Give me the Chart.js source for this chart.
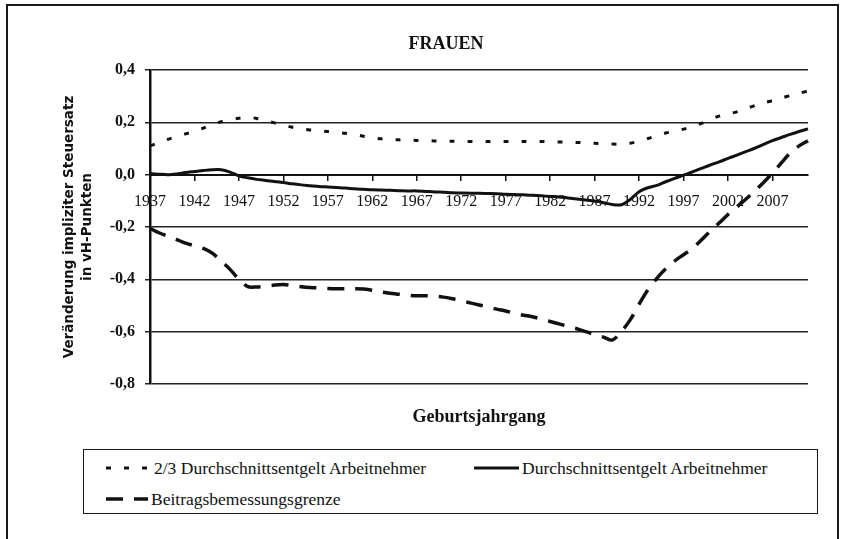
<!DOCTYPE html>
<html lang="de">
<head>
<meta charset="utf-8">
<script src="https://cdn.jsdelivr.net/npm/chart.js@4.4.1/dist/chart.umd.min.js"></script>
<style>
    html, body { margin: 0; padding: 0; background: #fff; width: 842px; height: 539px; overflow: hidden; }
    #frame { position: absolute; left: 6px; top: 4px; width: 829px; height: 560px; border: 2px solid #1a1a1a; }
    #chart { position: absolute; left: 0; top: 0; }
    #legend {
        position: absolute; left: 83px; top: 449px; width: 733px; height: 63px;
        border: 1.5px solid #1a1a1a; background: #fff;
        font-family: "Liberation Serif", serif; font-size: 17.5px; color: #111;
    }
    .item { position: absolute; display: flex; align-items: center; height: 20px; white-space: nowrap; }
    .item svg { margin-right: 3px; }
</style>
</head>
<body>
<div id="frame"></div>
<canvas id="chart" width="842" height="539"></canvas>
<div id="legend"></div>

<script>
// ============================
// DATA
// ============================
const years = [
    1937, 1938, 1939, 1940, 1941, 1942, 1943, 1944, 1945, 1946,
    1947, 1948, 1949, 1950, 1951, 1952, 1953, 1954, 1955, 1956,
    1957, 1958, 1959, 1960, 1961, 1962, 1963, 1964, 1965, 1966,
    1967, 1968, 1969, 1970, 1971, 1972, 1973, 1974, 1975, 1976,
    1977, 1978, 1979, 1980, 1981, 1982, 1983, 1984, 1985, 1986,
    1987, 1988, 1989, 1990, 1991, 1992, 1993, 1994, 1995, 1996,
    1997, 1998, 1999, 2000, 2001, 2002, 2003, 2004, 2005, 2006,
    2007, 2008, 2009, 2010, 2011
];

const tickYears = [1937, 1942, 1947, 1952, 1957, 1962, 1967, 1972, 1977, 1982, 1987, 1992, 1997, 2002, 2007];
const yTicks = [0.4, 0.2, 0.0, -0.2, -0.4, -0.6, -0.8];

const seriesNames = [
    "2/3 Durchschnittsentgelt Arbeitnehmer",
    "Durchschnittsentgelt Arbeitnehmer",
    "Beitragsbemessungsgrenze"
];

// 2/3 Durchschnittsentgelt
const twoThirdsAvg = [
    0.110, 0.122, 0.135, 0.146, 0.156, 0.165, 0.178, 0.192, 0.202, 0.210,
    0.216, 0.219, 0.215, 0.206, 0.198, 0.190, 0.181, 0.175, 0.171, 0.168,
    0.165, 0.161, 0.158, 0.153, 0.147, 0.141, 0.137, 0.135, 0.133, 0.132,
    0.131, 0.130, 0.129, 0.128, 0.128, 0.127, 0.127, 0.126, 0.127, 0.127,
    0.127, 0.127, 0.127, 0.126, 0.127, 0.126, 0.125, 0.124, 0.123, 0.122,
    0.120, 0.119, 0.117, 0.116, 0.120, 0.128, 0.138, 0.149, 0.159, 0.166,
    0.174, 0.184, 0.196, 0.210, 0.224, 0.232, 0.240, 0.252, 0.264, 0.274,
    0.283, 0.293, 0.302, 0.311, 0.320
];

// Durchschnittsentgelt
const avgEarnings = [
    0.004, 0.002, 0.000, 0.003, 0.008, 0.012, 0.016, 0.019, 0.019, 0.010,
    -0.004, -0.012, -0.018, -0.022, -0.026, -0.030, -0.035, -0.039, -0.042, -0.045,
    -0.047, -0.049, -0.051, -0.054, -0.056, -0.058, -0.059, -0.060, -0.061, -0.062,
    -0.062, -0.064, -0.066, -0.067, -0.069, -0.070, -0.071, -0.071, -0.072, -0.073,
    -0.075, -0.076, -0.077, -0.079, -0.081, -0.083, -0.085, -0.089, -0.093, -0.097,
    -0.101, -0.107, -0.114, -0.115, -0.095, -0.065, -0.050, -0.041, -0.027, -0.014,
    -0.002, 0.011, 0.024, 0.037, 0.049, 0.062, 0.075, 0.088, 0.101, 0.116,
    0.130, 0.142, 0.154, 0.165, 0.175
];

// Beitragsbemessungsgrenze
const contributionCeiling = [
    -0.205, -0.222, -0.235, -0.248, -0.262, -0.272, -0.282, -0.300, -0.330, -0.362,
    -0.400, -0.428, -0.429, -0.426, -0.422, -0.420, -0.424, -0.428, -0.431, -0.433,
    -0.435, -0.436, -0.436, -0.436, -0.437, -0.442, -0.448, -0.453, -0.457, -0.461,
    -0.463, -0.463, -0.464, -0.468, -0.474, -0.481, -0.490, -0.498, -0.505, -0.514,
    -0.521, -0.530, -0.537, -0.543, -0.552, -0.561, -0.570, -0.580, -0.589, -0.600,
    -0.610, -0.621, -0.632, -0.600, -0.555, -0.495, -0.440, -0.396, -0.360, -0.330,
    -0.306, -0.282, -0.250, -0.216, -0.185, -0.152, -0.124, -0.094, -0.063, -0.030,
    0.006, 0.045, 0.083, 0.110, 0.130
];

const ink = "#111";
const serif = "'Liberation Serif', 'Times New Roman', serif";

const lineStyles = [
    { width: 3, dash: [5, 13] },
    { width: 3, dash: [] },
    { width: 3.5, dash: [17, 11] }
];

function fmtComma(v) {
    if (Math.abs(v) < 1e-9) return "0,0";
    return v.toFixed(1).replace(".", ",");
}

// ============================
// CHART
// ============================
const datasets = [twoThirdsAvg, avgEarnings, contributionCeiling].map((vals, i) => ({
    label: seriesNames[i],
    data: vals,
    borderColor: ink,
    backgroundColor: ink,
    borderWidth: lineStyles[i].width,
    borderDash: lineStyles[i].dash,
    pointRadius: 0,
    tension: 0.3,
    fill: false
}));

new Chart(document.getElementById("chart"), {
    type: "line",
    data: { labels: years, datasets: datasets },
    options: {
        responsive: false,
        animation: false,
        devicePixelRatio: 1,
        // left/right padding kept so the title centres where the original has it
        layout: { padding: { left: 84, right: 34, top: 0, bottom: 100 } },
        plugins: {
            legend: { display: false },
            tooltip: { enabled: false },
            title: {
                display: true,
                text: "FRAUEN",
                color: ink,
                font: { family: serif, size: 18, weight: "bold" },
                padding: { top: 34, bottom: 14.4 }
            }
        },
        scales: {
            x: {
                type: "category",
                position: { y: 0 },
                offset: false,
                grid: { drawOnChartArea: false, drawTicks: true, tickLength: 5, color: ink, lineWidth: 1.5 },
                border: { display: true, color: ink, width: 2 },
                ticks: {
                    autoSkip: false,
                    maxRotation: 0,
                    minRotation: 0,
                    padding: 13,
                    color: ink,
                    font: { family: serif, size: 16 },
                    callback: function (val) {
                        const yr = Number(this.getLabelForValue(val));
                        return tickYears.includes(yr) ? String(yr) : null;
                    }
                }
            },
            x2: {
                type: "category",
                labels: years,
                position: "bottom",
                grid: { display: false },
                border: { display: false },
                ticks: { display: false },
                title: {
                    display: true,
                    text: "Geburtsjahrgang",
                    color: ink,
                    font: { family: serif, size: 18, weight: "bold" },
                    padding: { top: 0, bottom: 11 }
                },
                afterFit: s => { s.height = 55; }
            },
            y: {
                type: "linear",
                min: yTicks[yTicks.length - 1],
                max: yTicks[0],
                ticks: {
                    stepSize: yTicks[0] - yTicks[1],
                    padding: 10,
                    color: ink,
                    font: { family: serif, size: 16, weight: "bold" },
                    callback: v => fmtComma(v)
                },
                grid: { color: "#222", lineWidth: 1.5, drawTicks: true, tickLength: 5 },
                border: { color: ink, width: 2.5 },
                title: {
                    display: true,
                    text: ["Veränderung impliziter Steuersatz", "in vH-Punkten"],
                    color: ink,
                    font: { family: "'DejaVu Sans', sans-serif", size: 13.5, weight: "bold", lineHeight: 1.3 },
                    // negative: title sits left of the (narrow) axis box
                    padding: { top: -22.8, bottom: 0 }
                },
                afterFit: s => { s.width = 66; }
            }
        }
    }
});

// ============================
// LEGEND (boxed, below chart)
// ============================
const legendSpots = [
    { left: 22, top: 8, len: 45 },
    { left: 390, top: 8, len: 45 },
    { left: 22, top: 39, len: 42 }
];

const legend = document.getElementById("legend");
seriesNames.forEach((name, i) => {
    const spot = legendSpots[i];
    const st = lineStyles[i];
    const item = document.createElement("div");
    item.className = "item";
    item.style.left = spot.left + "px";
    item.style.top = spot.top + "px";
    item.innerHTML = `
        <svg width="${spot.len}" height="8">
            <line x1="0" y1="4" x2="${spot.len}" y2="4" stroke="${ink}"
                  stroke-width="${st.width}" stroke-dasharray="${st.dash.join(" ") || "none"}"/>
        </svg>
        <span>${name}</span>
    `;
    legend.appendChild(item);
});
</script>
</body>
</html>
